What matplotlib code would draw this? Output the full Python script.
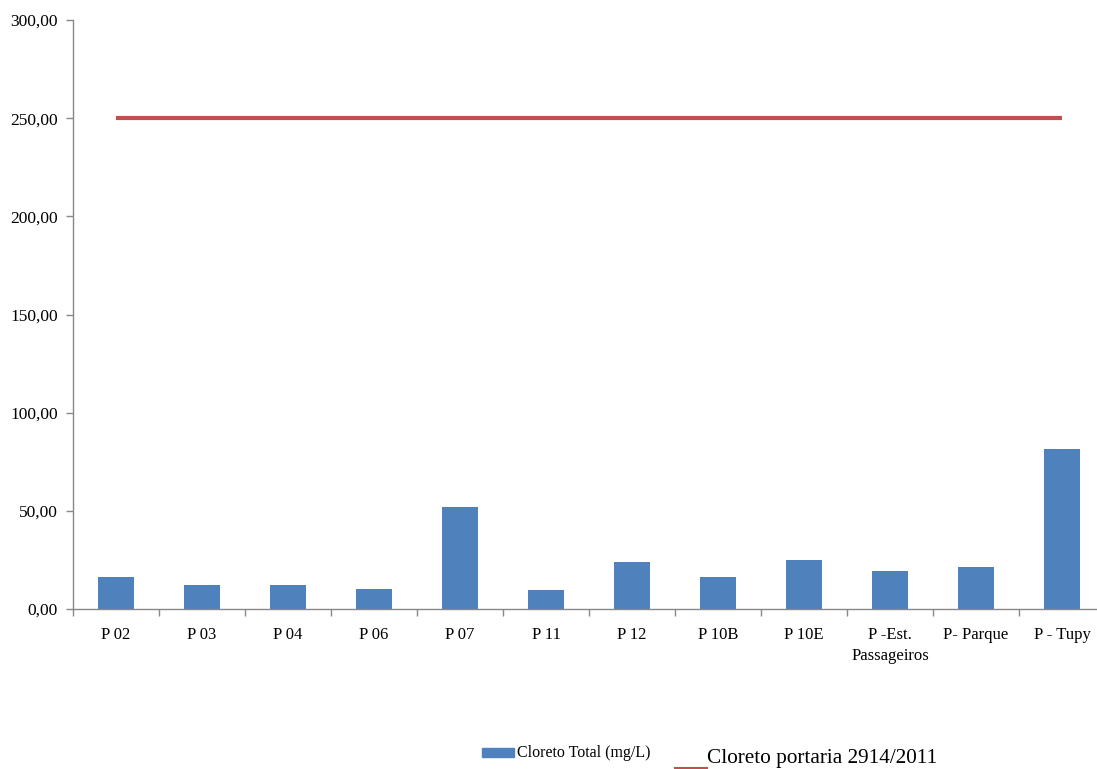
import matplotlib
matplotlib.use("Agg")
import matplotlib.pyplot as plt
import numpy as np
from matplotlib.patches import Rectangle
from matplotlib.lines import Line2D
from matplotlib.ticker import FuncFormatter, FixedLocator

categories = ["P 02", "P 03", "P 04", "P 06", "P 07", "P 11", "P 12", "P 10B",
              "P 10E", "P -Est.\nPassageiros", "P- Parque", "P - Tupy"]
cloreto_total = [16.1, 12.1, 12.1, 10.2, 52.2, 9.7, 23.7, 16.2, 25.1, 19.3, 21.3, 81.5]
limite_portaria = [250.0] * len(categories)

plt.rcParams["font.family"] = ["Liberation Serif", "DejaVu Serif"]

W, H = 1097, 769
fig = plt.figure(figsize=(W / 100, H / 100), dpi=100)
ax = fig.add_axes([73 / W, 1 - 609 / H, 1032 / W, 589 / H])

x = np.arange(len(categories))
ax.bar(x, cloreto_total, width=0.41, color="#4f81bd", zorder=2)
ax.plot(x, limite_portaria, color="#c0504d", linewidth=3, solid_capstyle="butt", zorder=3)

ax.set_xlim(-0.5, len(categories) - 0.5)
ax.set_ylim(0, 300)
ax.set_yticks(np.arange(0, 301, 50))
ax.yaxis.set_major_formatter(FuncFormatter(lambda v, p: f"{v:.2f}".replace(".", ",")))

ax.set_xticks(x)
ax.set_xticklabels(categories, fontsize=12, linespacing=1.4)
ax.xaxis.set_minor_locator(FixedLocator(np.arange(-0.5, len(categories), 1.0)))
ax.tick_params(axis="x", which="major", length=0, pad=13)
ax.tick_params(axis="x", which="minor", length=5, color="#888888", width=1)
ax.tick_params(axis="y", which="major", length=5, color="#888888", width=1,
               labelsize=12.5, pad=6)

for side in ("top", "right"):
    ax.spines[side].set_visible(False)
for side in ("left", "bottom"):
    ax.spines[side].set_color("#888888")
    ax.spines[side].set_linewidth(1)

# legend entries drawn along the bottom of the figure
fig.patches.append(Rectangle((482 / W, 1 - 757 / H), 32 / W, 9 / H,
                             transform=fig.transFigure, color="#4f81bd"))
fig.text(517 / W, 1 - 753 / H, "Cloreto Total (mg/L)", fontsize=11.5, va="center", ha="left")
fig.lines.append(Line2D([675 / W, 707 / W], [1 - 767.5 / H, 1 - 767.5 / H],
                        transform=fig.transFigure, color="#c0504d", linewidth=1.5))
fig.text(707 / W, 1 - 758 / H, "Cloreto portaria 2914/2011", fontsize=15.3, va="center", ha="left")

fig.savefig("out.png", dpi=100)
